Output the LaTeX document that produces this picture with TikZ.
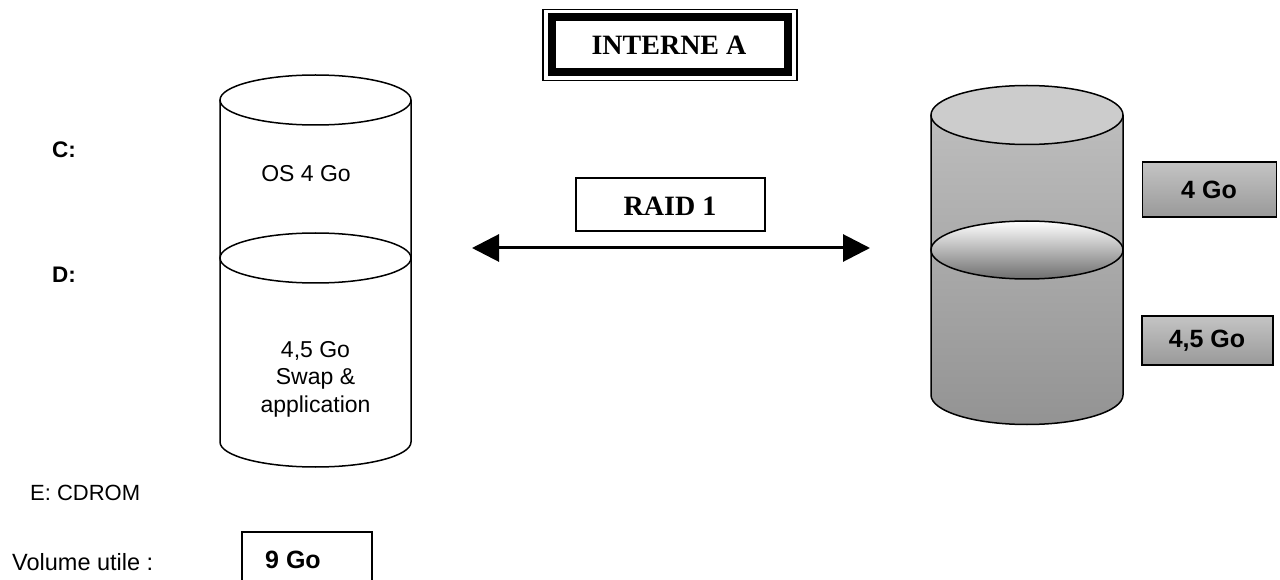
\documentclass[tikz,border=0pt]{standalone}
\usepackage{fontspec}
\setmainfont{Liberation Serif}
\setsansfont{Liberation Sans}
\usetikzlibrary{arrows.meta}
\definecolor{topgray}{HTML}{CCCCCC}
\definecolor{bodytop}{HTML}{BDBDBD}
\definecolor{bodybot}{HTML}{939393}
\definecolor{boxtop}{HTML}{C4C4C4}
\definecolor{boxbot}{HTML}{999999}
\definecolor{midbot}{HTML}{6E6E6E}
\tikzset{
  sans/.style={font=\sffamily\fontsize{23bp}{27.5bp}\selectfont, inner sep=0pt},
  sansbold/.style={font=\sffamily\bfseries\fontsize{22.5bp}{27.5bp}\selectfont, inner sep=0pt},
  boxlabel/.style={font=\sffamily\bfseries\fontsize{25bp}{30bp}\selectfont, inner sep=0pt},
  serifbold/.style={font=\rmfamily\bfseries\fontsize{28bp}{32bp}\selectfont, inner sep=0pt},
  cyl/.style={line width=1.5bp, draw=black},
  graybox/.style={draw=black, line width=1.5bp, top color=boxtop, bottom color=boxbot},
  plainbox/.style={draw=black, line width=1.5bp, fill=white},
}
\begin{document}
\begin{tikzpicture}[x=1bp,y=-1bp]
\useasboundingbox (0,0) rectangle (1280,580);
\fill[white] (0,0) rectangle (1280,580);

% ---- title box ----
\draw[line width=1.3bp] (543,9.5) rectangle (797,80.5);
\draw[line width=8bp] (551.5,17.5) rectangle (788,72.5);
\node[serifbold] (title) at (669,45) {INTERNE A};

% ---- left cylinder ----
\draw[cyl, fill=white] (220,100) -- (220,442) arc[start angle=180, end angle=0, x radius=95.5, y radius=25] -- (411,100);
\draw[cyl, fill=white] (315.5,100) ellipse[x radius=95.5, y radius=25];
\draw[cyl, fill=white] (315.5,258) ellipse[x radius=95.5, y radius=25];
\node[sans, anchor=base] (os) at (306,182) {OS 4 Go};
\node[sans, align=center] (swap) at (315.5,379) {4,5 Go\\Swap \&\\application};

% ---- labels left ----
\node[sansbold, anchor=base west] (c) at (52,158) {C:};
\node[sansbold, anchor=base west] (d) at (52,283) {D:};
\node[sans, font=\sffamily\fontsize{22bp}{26bp}\selectfont, anchor=base west] (e) at (30,500) {E: CDROM};
\node[sans, font=\sffamily\fontsize{23.5bp}{28bp}\selectfont, anchor=base west] (vol) at (12,570) {Volume utile :};
\draw[line width=1.5bp] (242,582) -- (242,532) -- (372,532) -- (372,582);
\node[boxlabel, anchor=base west] (nine) at (265,568) {9 Go};

% ---- RAID 1 ----
\node[plainbox, minimum width=189bp, minimum height=53bp, inner sep=0pt] (raid) at (670.5,204.5) {};
\node[serifbold] (raidtxt) at (670,206) {RAID 1};
\coordinate (aL) at (472,248);
\coordinate (aR) at (870,248);
\draw[line width=3bp, {Triangle[length=27bp,width=27bp]}-{Triangle[length=27bp,width=27bp]}] (aL) -- (aR);

% ---- right cylinder ----
\shade[top color=bodytop, bottom color=bodybot] (931,115) -- (931,395) arc[start angle=180, end angle=0, x radius=96, y radius=29.5] -- (1123,115) -- cycle;
\draw[cyl] (931,115) -- (931,395) arc[start angle=180, end angle=0, x radius=96, y radius=29.5] -- (1123,115);
\draw[cyl, fill=topgray] (1027,115) ellipse[x radius=96, y radius=29.5];
\draw[cyl, top color=white, bottom color=midbot] (1027,250) ellipse[x radius=96, y radius=29];

% ---- right boxes ----
\node[graybox, minimum width=134bp, minimum height=55bp, inner sep=0pt] (b4) at (1209.5,189.5) {};
\node[boxlabel] (b4t) at (1209,190) {4 Go};
\node[graybox, minimum width=131bp, minimum height=49bp, inner sep=0pt] (b45) at (1207.5,340.5) {};
\node[boxlabel] (b45t) at (1207,341) {4,5 Go};
\end{tikzpicture}
\end{document}
